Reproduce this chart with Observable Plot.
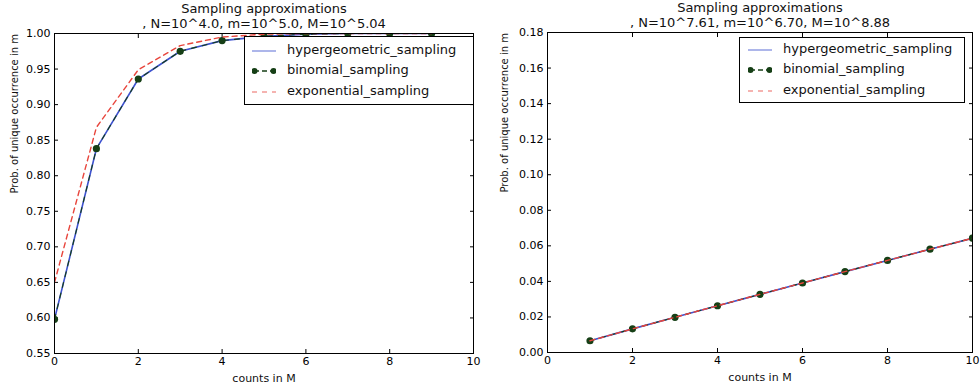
<!DOCTYPE html>
<html>
<head>
<meta charset="utf-8">
<script src="https://cdn.jsdelivr.net/npm/d3@7"></script>
<script src="https://cdn.jsdelivr.net/npm/@observablehq/plot@0.6"></script>
<style>
  html, body { margin: 0; padding: 0; background: #fff; }
  #fig { position: relative; width: 980px; height: 391px; display: flex; font-family: "DejaVu Sans", sans-serif; }
  .panel { position: relative; width: 490px; height: 391px; }
  .legend { position: absolute; background: #fff; border: 1px solid #000; box-sizing: border-box; font-size: 13px; color: #111; }
  .legend .row { position: absolute; left: 0; height: 20px; display: flex; align-items: center; white-space: nowrap; }
  .legend svg { display: block; }
</style>
</head>
<body>
<div id="fig"></div>
<script>
// Probability of a unique occurrence in m, per count in M, for three sampling schemes.
const seriesNames = ["hypergeometric_sampling", "binomial_sampling", "exponential_sampling"];

// Panel A: N=10^4.0, m=10^5.0, M=10^5.04
const countsA = [0, 1, 2, 3, 4, 5, 6, 7, 8, 9];
const hyperA = [0.598, 0.838, 0.936, 0.975, 0.990, 0.996, 0.999, 1.000, 1.000, 1.000];
const binomA = [0.598, 0.838, 0.936, 0.975, 0.990, 0.996, 0.999, 1.000, 1.000, 1.000];
const expoA  = [0.650, 0.868, 0.949, 0.983, 0.995, 0.999, 1.000, 1.000, 1.000, 1.000];
const yTicksA = [0.55, 0.60, 0.65, 0.70, 0.75, 0.80, 0.85, 0.90, 0.95, 1.00];

// Panel B: N=10^7.61, m=10^6.70, M=10^8.88
const countsB = [1, 2, 3, 4, 5, 6, 7, 8, 9, 10];
const hyperB = [0.0066, 0.0133, 0.0198, 0.0263, 0.0327, 0.0391, 0.0455, 0.0518, 0.0581, 0.0643];
const binomB = [0.0066, 0.0133, 0.0198, 0.0263, 0.0327, 0.0391, 0.0455, 0.0518, 0.0581, 0.0643];
const expoB  = [0.0066, 0.0133, 0.0198, 0.0263, 0.0327, 0.0391, 0.0455, 0.0518, 0.0581, 0.0643];
const yTicksB = [0, 0.02, 0.04, 0.06, 0.08, 0.10, 0.12, 0.14, 0.16, 0.18];

const xTicks = [0, 2, 4, 6, 8, 10];

const titleLine = "Sampling approximations";
const subtitleA = ", N=10^4.0, m=10^5.0, M=10^5.04";
const subtitleB = ", N=10^7.61, m=10^6.70, M=10^8.88";
const xLabel = "counts in M";
const yLabel = "Prob. of unique occurrence in m";

const COLORS = { hyper: "#3d52cf", binom: "#163f16", expo: "#e8453c" };
const FONT = "DejaVu Sans, sans-serif";

function rows(xs, ys) { return xs.map((x, i) => ({ x, y: ys[i] })); }

function panel({ xs, hyper, binom, expo, yDomain, yTicks, subtitle, margins, legend }) {
  const inward = -4;
  const chart = Plot.plot({
    width: 490,
    height: 391,
    ...margins,
    style: { fontFamily: FONT, background: "#fff", color: "#000", overflow: "visible" },
    x: { domain: [0, 10] },
    y: { domain: yDomain },
    marks: [
      Plot.axisX({ anchor: "bottom", ticks: xTicks, tickSize: inward, tickPadding: 8, fontSize: 11, label: null, tickFormat: d3.format("d") }),
      Plot.axisX({ anchor: "top", ticks: xTicks, tickSize: inward, tickFormat: () => "", label: null }),
      Plot.axisY({ anchor: "left", ticks: yTicks, tickSize: inward, tickPadding: 8, fontSize: 11, label: null, tickFormat: d3.format(".2f") }),
      Plot.axisY({ anchor: "right", ticks: yTicks, tickSize: inward, tickFormat: () => "", label: null }),
      Plot.line(rows(xs, hyper), { x: "x", y: "y", stroke: COLORS.hyper, strokeWidth: 1.6, clip: true }),
      Plot.line(rows(xs, binom), { x: "x", y: "y", stroke: COLORS.binom, strokeWidth: 1.1, strokeDasharray: "5,6", clip: true }),
      Plot.dot(rows(xs, binom), { x: "x", y: "y", r: 3.6, fill: COLORS.binom, stroke: "none", clip: true }),
      Plot.line(rows(xs, expo), { x: "x", y: "y", stroke: COLORS.expo, strokeWidth: 1.4, strokeDasharray: "5,4", clip: true }),
      Plot.frame({ stroke: "#000", strokeWidth: 1 }),
      Plot.text([titleLine + "\n" + subtitle], { frameAnchor: "top", lineAnchor: "bottom", dy: -6, fontSize: 13, lineHeight: 1.08, fill: "#111" }),
      Plot.text([xLabel], { frameAnchor: "bottom", lineAnchor: "middle", dy: 25, fontSize: 11, fill: "#111" }),
      Plot.text([yLabel], { frameAnchor: "left", rotate: -90, dx: margins.yLabelOffset, lineAnchor: "middle", fontSize: 10, fill: "#111" })
    ]
  });
  const wrap = document.createElement("div");
  wrap.className = "panel";
  wrap.appendChild(chart);
  wrap.appendChild(makeLegend(legend));
  return wrap;
}

function sample(kind) {
  const w = 24, h = 12, m = h / 2;
  if (kind === 0) return `<svg width="${w}" height="${h}"><line x1="0" y1="${m}" x2="${w}" y2="${m}" stroke="${COLORS.hyper}" stroke-width="1.2" opacity="0.7"/></svg>`;
  if (kind === 1) return `<svg width="${w}" height="${h}"><line x1="2" y1="${m}" x2="${w - 2}" y2="${m}" stroke="${COLORS.binom}" stroke-width="1.4" stroke-dasharray="5,3"/><circle cx="2.5" cy="${m}" r="3" fill="${COLORS.binom}"/><circle cx="${w - 2.5}" cy="${m}" r="3" fill="${COLORS.binom}"/></svg>`;
  return `<svg width="${w}" height="${h}"><line x1="0" y1="${m}" x2="${w}" y2="${m}" stroke="${COLORS.expo}" stroke-width="1.2" stroke-dasharray="5,5" opacity="0.8"/></svg>`;
}

function makeLegend({ left, top, width, height, rowTop, sampleLeft, textLeft }) {
  const box = document.createElement("div");
  box.className = "legend";
  Object.assign(box.style, { left: left + "px", top: top + "px", width: width + "px", height: height + "px" });
  seriesNames.forEach((name, i) => {
    const row = document.createElement("div");
    row.className = "row";
    row.style.top = (rowTop + i * 20.3 - 10) + "px";
    row.innerHTML = `<span style="position:absolute;left:${sampleLeft}px;top:4px">${sample(i)}</span><span style="position:absolute;left:${textLeft}px;top:1px">${name}</span>`;
    box.appendChild(row);
  });
  return box;
}

const fig = document.getElementById("fig");
fig.appendChild(panel({
  xs: countsA, hyper: hyperA, binom: binomA, expo: expoA,
  yDomain: [0.55, 1.0], yTicks: yTicksA, subtitle: subtitleA,
  margins: { marginLeft: 54, marginRight: 17, marginTop: 33, marginBottom: 38, yLabelOffset: -40 },
  legend: { left: 244, top: 36, width: 230, height: 69, rowTop: 14, sampleLeft: 7, textLeft: 42 }
}));
fig.appendChild(panel({
  xs: countsB, hyper: hyperB, binom: binomB, expo: expoB,
  yDomain: [0, 0.18], yTicks: yTicksB, subtitle: subtitleB,
  margins: { marginLeft: 57, marginRight: 8, marginTop: 32, marginBottom: 39, yLabelOffset: -43 },
  legend: { left: 249, top: 37, width: 226, height: 66, rowTop: 12, sampleLeft: 8, textLeft: 43 }
}));
</script>
</body>
</html>
